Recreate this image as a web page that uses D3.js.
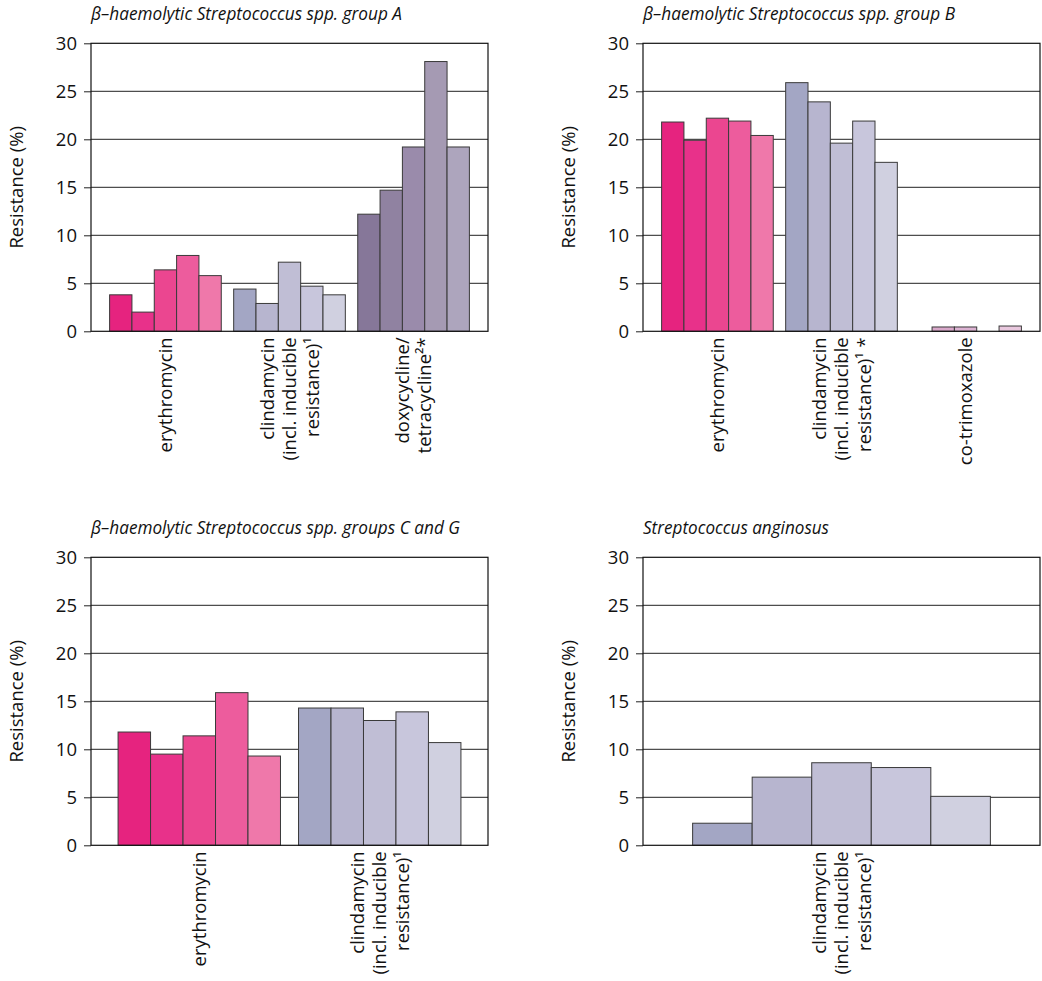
<!DOCTYPE html>
<html><head><meta charset="utf-8">
<script src="https://cdn.jsdelivr.net/npm/d3@7"></script>
<style>body{margin:0;background:#fff}</style>
</head><body><svg id="chart" width="1042" height="981"></svg>
<script>
// ---------- data ----------
const yTicks = [0, 5, 10, 15, 20, 25, 30];
const yLabel = "Resistance (%)";

const titleA = "β–haemolytic Streptococcus spp. group A";
const titleB = "β–haemolytic Streptococcus spp. group B";
const titleCG = "β–haemolytic Streptococcus spp. groups C and G";
const titleAng = "Streptococcus anginosus";

const catErythro = ["erythromycin"];
const catClinda = ["clindamycin", "(incl. inducible", "resistance)¹"];
const catClindaStar = ["clindamycin", "(incl. inducible", "resistance)¹ *"];
const catDoxy = ["doxycycline/", "tetracycline²*"];
const catCotrim = ["co-trimoxazole"];

const groupAErythro = [3.8, 2.0, 6.4, 7.9, 5.8];
const groupAClinda = [4.4, 2.9, 7.2, 4.7, 3.8];
const groupADoxy = [12.2, 14.7, 19.2, 28.1, 19.2];

const groupBErythro = [21.8, 19.9, 22.2, 21.9, 20.4];
const groupBClinda = [25.9, 23.9, 19.6, 21.9, 17.6];
const groupBCotrim = [null, 0.45, 0.45, null, 0.55];

const groupCGErythro = [11.8, 9.5, 11.4, 15.9, 9.3];
const groupCGClinda = [14.3, 14.3, 13.0, 13.9, 10.7];

const anginosusClinda = [2.3, 7.1, 8.6, 8.1, 5.1];

const colErythro = ["#e6237f", "#e8318a", "#eb4690", "#ed5c9d", "#ef78aa"];
const colClinda = ["#a3a6c4", "#b7b5cf", "#c0bed5", "#c8c6dc", "#d0d0e0"];
const colDoxy = ["#867799", "#9082a1", "#9a8bab", "#a59ab3", "#ada5bd"];
const colCotrim = ["#d4a0c4", "#d9a8ca", "#ddb3d3", "#e3bfd9", "#e9c8de"];

// ---------- layout ----------
const panels = [
  { title: titleA, titleW: 311, left: 91, top: 43.3, groups: [
      { label: catErythro, values: groupAErythro, colors: colErythro },
      { label: catClinda, values: groupAClinda, colors: colClinda },
      { label: catDoxy, values: groupADoxy, colors: colDoxy } ] },
  { title: titleB, titleW: 312, left: 643, top: 43.3, groups: [
      { label: catErythro, values: groupBErythro, colors: colErythro },
      { label: catClindaStar, values: groupBClinda, colors: colClinda },
      { label: catCotrim, values: groupBCotrim, colors: colCotrim } ] },
  { title: titleCG, titleW: 369, left: 91, top: 557.3, groups: [
      { label: catErythro, values: groupCGErythro, colors: colErythro },
      { label: catClinda, values: groupCGClinda, colors: colClinda } ] },
  { title: titleAng, titleW: 186, left: 643, top: 557.3, groups: [
      { label: catClinda, values: anginosusClinda, colors: colClinda } ] }
];
const plotW = 397, plotH = 288;
const font = "'Open Sans', 'Noto Sans', sans-serif";
const fs = 18.5;

const svg = d3.select("#chart");

panels.forEach(p => {
  const g = svg.append("g").attr("transform", `translate(${p.left},${p.top})`);
  const y = d3.scaleLinear().domain([0, 30]).range([plotH, 0]);
  const x0 = d3.scaleBand().domain(p.groups.map((d, i) => i)).range([0, plotW])
    .paddingInner(0.1).paddingOuter(0.15);
  const x1 = d3.scaleBand().domain(d3.range(5)).range([0, x0.bandwidth()]).padding(0);

  // title
  g.append("text").attr("x", 0).attr("y", -23.5)
    .attr("font-family", font).attr("font-style", "italic").attr("font-size", 17.5)
    .attr("textLength", p.titleW).attr("lengthAdjust", "spacingAndGlyphs")
    .attr("fill", "#111").text(p.title);

  // gridlines
  g.append("g").selectAll("line").data(yTicks.filter(t => t > 0 && t < 30)).join("line")
    .attr("x1", 0).attr("x2", plotW).attr("y1", d => y(d)).attr("y2", d => y(d))
    .attr("stroke", "#222").attr("stroke-width", 1);

  // axis
  const ax = d3.axisLeft(y).tickValues(yTicks).tickSize(7).tickPadding(7);
  const axG = g.append("g").call(ax);
  axG.select(".domain").remove();
  axG.selectAll(".tick line").attr("stroke", "#222");
  axG.selectAll(".tick text").attr("font-family", font).attr("font-size", fs).attr("fill", "#111");

  // bars
  p.groups.forEach((grp, gi) => {
    g.append("g").selectAll("rect")
      .data(grp.values.map((v, i) => ({ v, i })).filter(d => d.v != null)).join("rect")
      .attr("x", d => x0(gi) + x1(d.i))
      .attr("y", d => y(d.v))
      .attr("width", x1.bandwidth())
      .attr("height", d => plotH - y(d.v))
      .attr("fill", d => grp.colors[d.i])
      .attr("stroke", "#3a3a3a").attr("stroke-width", 1);

    // category label
    const cx = x0(gi) + x0.bandwidth() / 2;
    const n = grp.label.length;
    grp.label.forEach((line, li) => {
      const lx = cx + (li - (n - 1) / 2) * 22.5;
      g.append("text")
        .attr("transform", `translate(${lx},${plotH + 6}) rotate(-90)`)
        .attr("text-anchor", "end").attr("dy", "0.36em")
        .attr("font-family", font).attr("font-size", fs).attr("fill", "#111")
        .text(line);
    });
  });

  // frame
  g.append("rect").attr("x", 0).attr("y", 0).attr("width", plotW).attr("height", plotH)
    .attr("fill", "none").attr("stroke", "#111").attr("stroke-width", 1.2);

  // y label
  g.append("text")
    .attr("transform", `translate(-74.5,${plotH / 2}) rotate(-90)`)
    .attr("text-anchor", "middle").attr("dy", "0.36em")
    .attr("font-family", font).attr("font-size", fs).attr("fill", "#111")
    .text(yLabel);
});
</script></body></html>
